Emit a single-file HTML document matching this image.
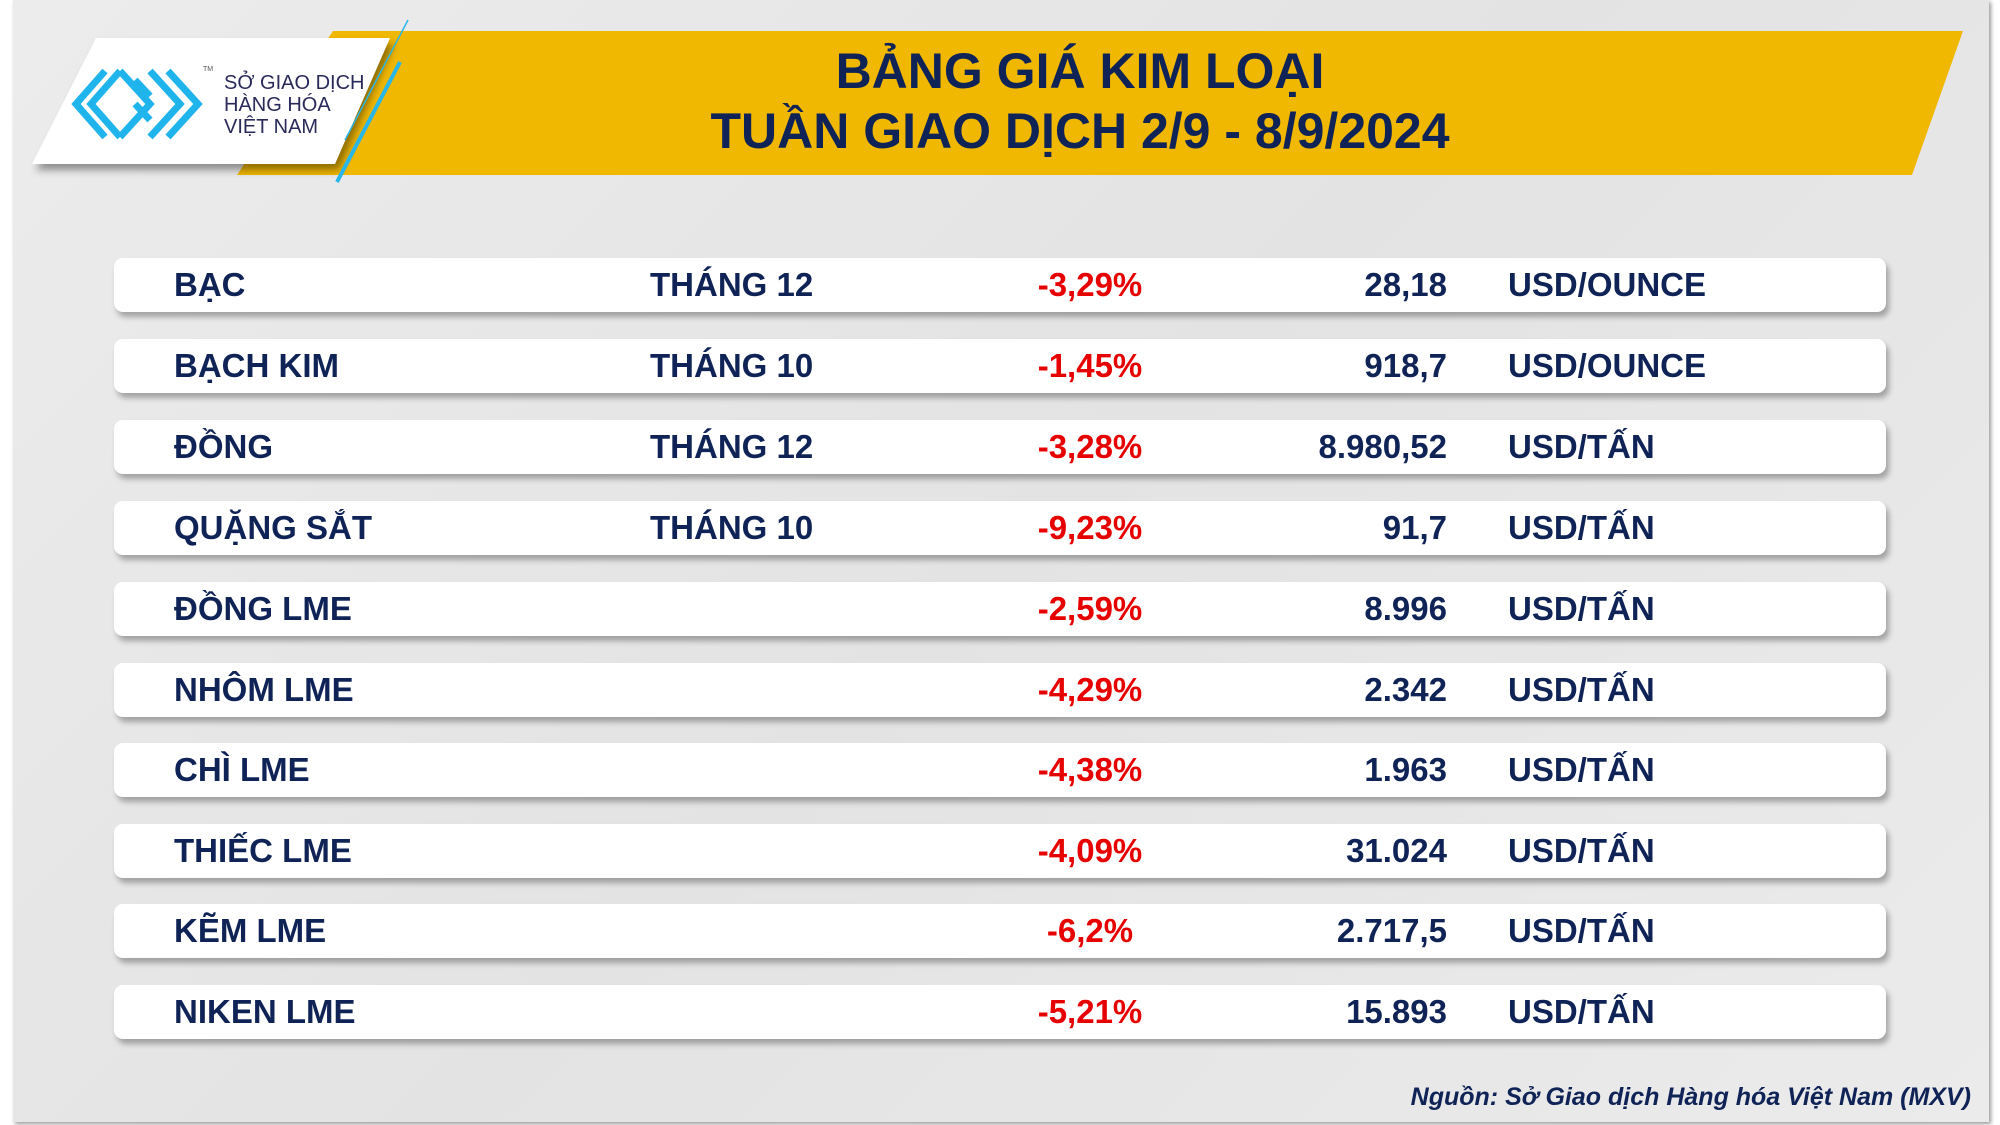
<!DOCTYPE html>
<html><head><meta charset="utf-8"><style>
body{margin:0;width:2000px;height:1125px;background:#fff;position:relative;overflow:hidden;font-family:"Liberation Sans",sans-serif}
.panel{position:absolute;left:13px;top:0;width:1976px;height:1122px;background:linear-gradient(135deg,#ececec,#e3e3e3 50%,#ebebeb);box-shadow:2px 2px 4px #999}
.row{position:absolute;left:114px;width:1772px;height:54px;background:#fff;border-radius:9px;box-shadow:3px 5px 6px rgba(0,0,0,.3);font-weight:bold;font-size:33px;color:#0f2356;font-family:"Liberation Sans",sans-serif}
.row span{position:absolute;top:8px;white-space:nowrap}
.n{left:60px}.m{left:536px}.p{left:876px;width:200px;text-align:center;color:#e60000}.v{right:439px;text-align:right}.u{left:1394px}
.title{position:absolute;left:580px;width:1000px;text-align:center;color:#0f2356;font-weight:bold;font-size:50px}
</style></head><body>
<div class="panel"></div>
<svg style="position:absolute;left:0;top:0" width="2000" height="200">
<polygon points="333,31 1963,31 1912,175 237,175" fill="#f0b800"/>
<polygon points="96,38 390,38 335,164 32,164" fill="#fff" style="filter:drop-shadow(4px 6px 4px rgba(0,0,0,.4))"/>
<line x1="408" y1="20" x2="345" y2="140" stroke="#29b6e8" stroke-width="1.5"/>
<line x1="400" y1="62" x2="337" y2="182" stroke="#29b6e8" stroke-width="4"/>
<g fill="none" stroke="#1fb4ec" stroke-width="7">
<polyline points="105,71 76,104 105,137"/><polyline points="120,71 91,104 120,137"/>
<polyline points="120,71 150,104 120,137"/><polyline points="135,80 150,96"/>
<polyline points="150,71 180,104 150,137"/><polyline points="168,71 198,104 168,137"/>
<polyline points="135,104 150,120"/>
</g>
<text x="203" y="71" font-size="7" fill="#555" font-family="Liberation Sans">TM</text>
<g font-family="Liberation Sans" font-size="20" fill="#2a2a5a">
<text x="224" y="89">SỞ GIAO DỊCH</text><text x="224" y="111">HÀNG HÓA</text><text x="224" y="133">VIỆT NAM</text></g>
</svg>
<div class="title" style="top:42px">BẢNG GIÁ KIM LOẠI</div>
<div class="title" style="top:102px">TUẦN GIAO DỊCH 2/9 - 8/9/2024</div>

<div class="row" style="top:258px"><span class="n">BẠC</span><span class="m">THÁNG 12</span><span class="p">-3,29%</span><span class="v">28,18</span><span class="u">USD/OUNCE</span></div>
<div class="row" style="top:339px"><span class="n">BẠCH KIM</span><span class="m">THÁNG 10</span><span class="p">-1,45%</span><span class="v">918,7</span><span class="u">USD/OUNCE</span></div>
<div class="row" style="top:420px"><span class="n">ĐỒNG</span><span class="m">THÁNG 12</span><span class="p">-3,28%</span><span class="v">8.980,52</span><span class="u">USD/TẤN</span></div>
<div class="row" style="top:501px"><span class="n">QUẶNG SẮT</span><span class="m">THÁNG 10</span><span class="p">-9,23%</span><span class="v">91,7</span><span class="u">USD/TẤN</span></div>
<div class="row" style="top:582px"><span class="n">ĐỒNG LME</span><span class="p">-2,59%</span><span class="v">8.996</span><span class="u">USD/TẤN</span></div>
<div class="row" style="top:663px"><span class="n">NHÔM LME</span><span class="p">-4,29%</span><span class="v">2.342</span><span class="u">USD/TẤN</span></div>
<div class="row" style="top:743px"><span class="n">CHÌ LME</span><span class="p">-4,38%</span><span class="v">1.963</span><span class="u">USD/TẤN</span></div>
<div class="row" style="top:824px"><span class="n">THIẾC LME</span><span class="p">-4,09%</span><span class="v">31.024</span><span class="u">USD/TẤN</span></div>
<div class="row" style="top:904px"><span class="n">KẼM LME</span><span class="p">-6,2%</span><span class="v">2.717,5</span><span class="u">USD/TẤN</span></div>
<div class="row" style="top:985px"><span class="n">NIKEN LME</span><span class="p">-5,21%</span><span class="v">15.893</span><span class="u">USD/TẤN</span></div>

<div style="position:absolute;right:29px;top:1083px;font-style:italic;font-weight:bold;font-size:25px;color:#0f2356;font-family:'Liberation Sans',sans-serif">Nguồn: Sở Giao dịch Hàng hóa Việt Nam (MXV)</div>
</body></html>
